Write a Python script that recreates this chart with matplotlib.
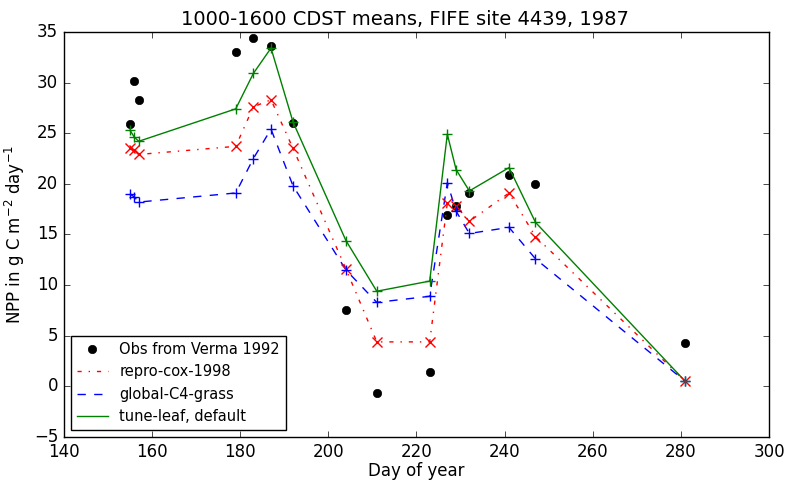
import matplotlib
matplotlib.use("Agg")
import matplotlib.pyplot as plt


# day of year for each sample
days = [155, 156, 157, 179, 183, 187, 192, 204, 211, 223, 227, 229, 232, 241, 247, 281]

obs_verma = [25.9, 30.2, 28.3, 33.0, 34.4, 33.6, 26.0, 7.5, -0.6, 1.4,
             16.9, 17.8, 19.1, 20.9, 20.0, 4.3]

repro_cox = [23.5, 23.3, 22.9, 23.7, 27.6, 28.3, 23.5, 11.6, 4.4, 4.4,
             18.1, 17.8, 16.3, 19.1, 14.8, 0.5]

global_c4 = [19.0, 18.7, 18.2, 19.1, 22.5, 25.4, 19.8, 11.5, 8.3, 8.9,
             20.1, 17.3, 15.1, 15.7, 12.6, 0.5]

tune_leaf = [25.3, 24.6, 24.2, 27.4, 30.9, 33.4, 26.1, 14.4, 9.4, 10.4,
             24.9, 21.4, 19.3, 21.6, 16.2, 0.5]


def main():

    plt.style.use("classic")
    plt.rcParams["mathtext.fontset"] = "dejavusans"

    fig = plt.figure(figsize=(7.88, 4.83), dpi=100, facecolor="white")
    ax = fig.add_axes([0.081, 0.095, 0.895, 0.839])

    ax.plot(days, obs_verma, "ko", markersize=6, label="Obs from Verma 1992")

    # lines carry the legend entries, markers are drawn on top without labels
    ax.plot(days, repro_cox, "r-.", label="repro-cox-1998")
    ax.plot(days, global_c4, "b--", label="global-C4-grass")
    ax.plot(days, tune_leaf, "g-", label="tune-leaf, default")

    ax.plot(days, repro_cox, "rx", markersize=6.5, mew=1)
    ax.plot(days, global_c4, "b+", markersize=7.5, mew=1)
    ax.plot(days, tune_leaf, "g+", markersize=7.5, mew=1)

    ax.set_xlim(140, 300)
    ax.set_ylim(-5, 35)

    ax.set_title("1000-1600 CDST means, FIFE site 4439, 1987",
                 fontsize=14, x=0.484)
    ax.set_xlabel("Day of year", fontsize=12, labelpad=1)
    ax.set_ylabel(r"NPP in g C m$^{-2}$ day$^{-1}$", fontsize=12)

    ax.tick_params(labelsize=12)

    ax.legend(loc="lower left", numpoints=1, fontsize=10.5,
              handlelength=2.1, fancybox=False)

    fig.savefig("out.png", dpi=100, facecolor="white")


if __name__ == "__main__":

    main()
